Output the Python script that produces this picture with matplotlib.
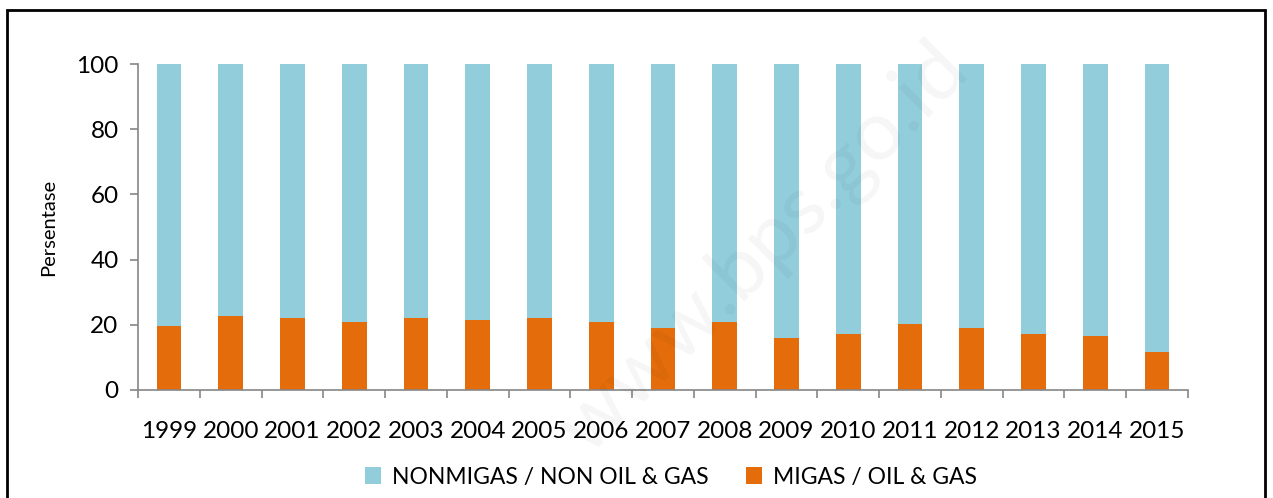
import matplotlib.pyplot as plt
import numpy as np
from matplotlib.patches import Rectangle

years = ['1999', '2000', '2001', '2002', '2003', '2004', '2005', '2006', '2007',
         '2008', '2009', '2010', '2011', '2012', '2013', '2014', '2015']
migas = np.array([19.7, 22.8, 22.2, 21.0, 22.2, 21.6, 22.2, 21.0, 19.1,
                  21.0, 16.0, 17.3, 20.3, 19.1, 17.3, 16.7, 11.8])
nonmigas = 100 - migas

plt.rcParams['font.family'] = ['Lato', 'DejaVu Sans']

fig = plt.figure(figsize=(12.73, 4.98), dpi=100)
ax = fig.add_axes([138/1273, 1 - 390/498, (1188-138)/1273, (390-64)/498])

x = np.arange(len(years))
w = 0.4
ax.bar(x, migas, width=w, color='#E46C0A', label='MIGAS / OIL & GAS', zorder=2)
ax.bar(x, nonmigas, width=w, bottom=migas, color='#92CDDC',
       label='NONMIGAS / NON OIL & GAS', zorder=2)

ax.set_xlim(-0.5, len(years) - 0.5)
ax.set_ylim(0, 100)
ax.set_yticks([0, 20, 40, 60, 80, 100])
ax.set_xticks(x)
ax.set_xticklabels(years)
ax.set_xticks(np.arange(-0.5, len(years)), minor=True)
ax.tick_params(axis='x', which='major', length=0, pad=22, labelsize=17.5)
ax.tick_params(axis='x', which='minor', length=6, color='#868686', width=1.2)
ax.tick_params(axis='y', length=6, color='#868686', width=1.2, labelsize=17.5, pad=8)
for s in ['top', 'right']:
    ax.spines[s].set_visible(False)
for s in ['left', 'bottom']:
    ax.spines[s].set_color('#868686')
    ax.spines[s].set_linewidth(1.2)
ax.set_ylabel('Persentase', fontsize=14.5, labelpad=14)

h, l = ax.get_legend_handles_labels()
fig.legend(h[::-1], l[::-1], loc='center', bbox_to_anchor=(0.527, 1 - 477/498),
           ncol=2, frameon=False, fontsize=16.5, handlelength=0.7, handleheight=0.7,
           columnspacing=1.6, handletextpad=0.5)

# watermark
fig.text(0.6, 0.5, 'www.bps.go.id', fontsize=60, color='#000000', alpha=0.04,
         rotation=45, ha='center', va='center')

fig.patches.append(Rectangle((7/1273, -0.1), (1265-7)/1273, 1.1 - 10/498,
                             transform=fig.transFigure, fill=False,
                             edgecolor='black', linewidth=2))

fig.savefig('out.png', dpi=100)
